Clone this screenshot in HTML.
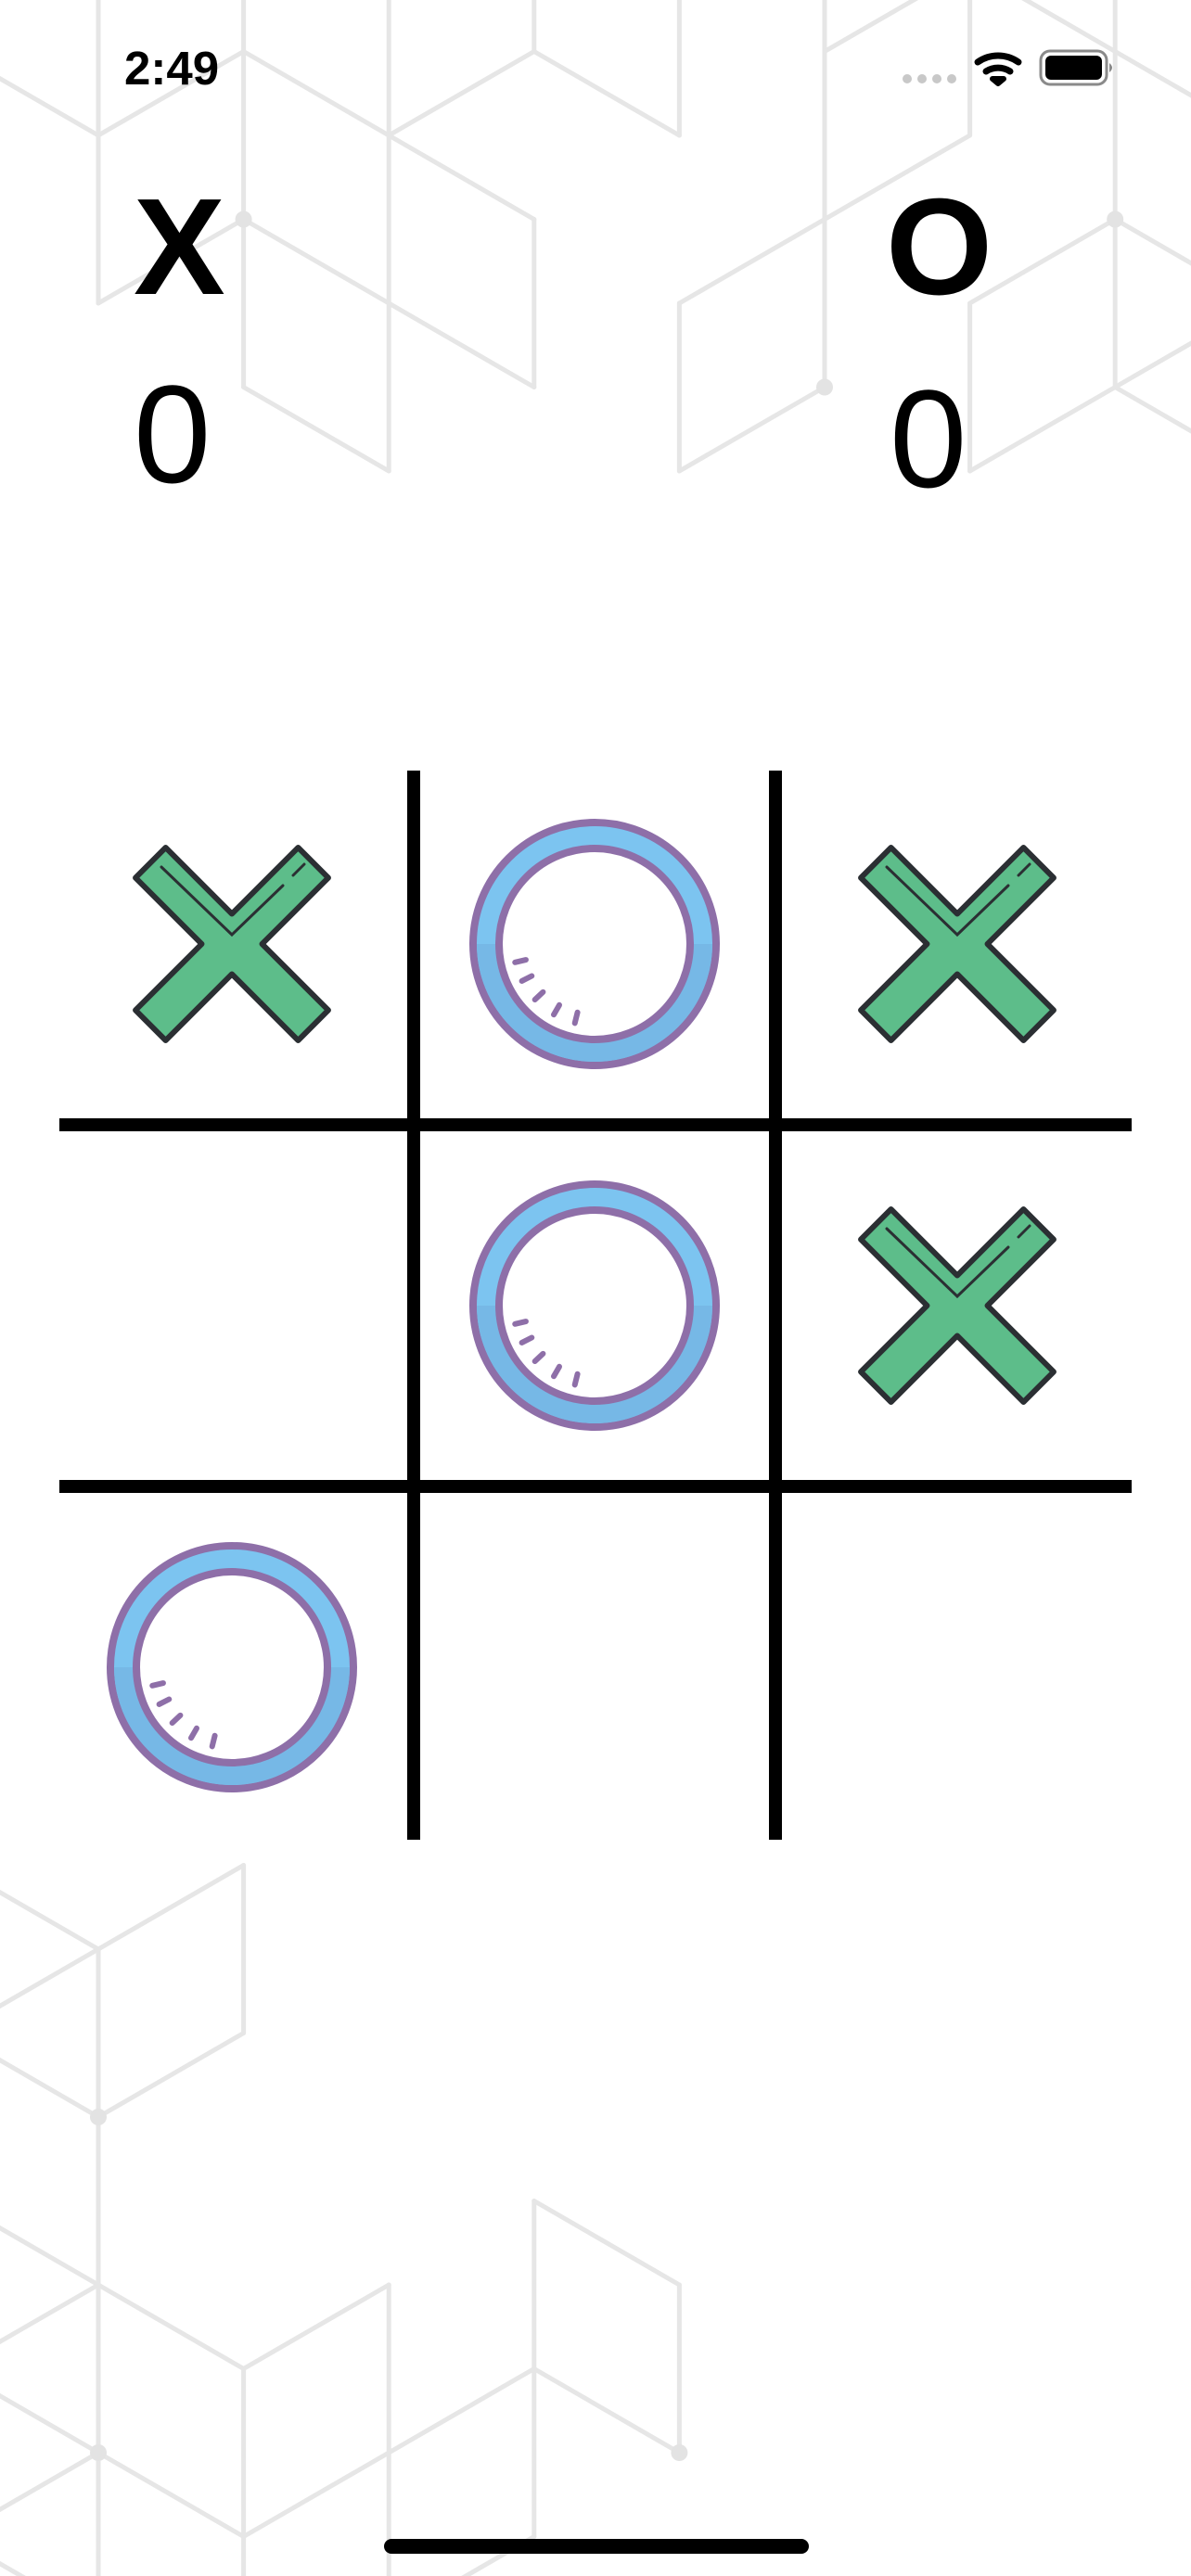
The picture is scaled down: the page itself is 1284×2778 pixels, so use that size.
<!DOCTYPE html>
<html><head><meta charset="utf-8">
<style>
html,body{margin:0;padding:0;background:#fff;}
body{width:1284px;height:2778px;position:relative;overflow:hidden;font-family:"Liberation Sans",sans-serif;}
svg{position:absolute;left:0;top:0;}
</style></head>
<body>
<svg id="root" width="1284" height="2778" viewBox="0 0 1284 2778" xmlns="http://www.w3.org/2000/svg">
  <g id="bg" stroke="#e6e6e6" stroke-width="5" fill="none" stroke-linecap="round"></g>
  <g id="bgdots" fill="#e3e3e3"></g>

  <!-- status bar -->
  <text x="134" y="91" font-size="51" font-weight="bold" fill="#000">2:49</text>
  <g fill="#c8c8c8">
    <circle cx="978" cy="85" r="5"/><circle cx="994" cy="85" r="5"/><circle cx="1010" cy="85" r="5"/><circle cx="1026" cy="85" r="5"/>
  </g>
  <g fill="none" stroke="#000" stroke-width="7" stroke-linecap="round">
    <path d="M1054 67 A38 38 0 0 1 1098 67"/>
    <path d="M1063 77 A24 24 0 0 1 1089 77"/>
    <path d="M1070 85 L1076 90 L1082 85 Z" fill="#000" stroke-width="6" stroke-linejoin="round"/>
  </g>
  <g>
    <rect x="1122" y="55" width="71" height="36" rx="10" fill="none" stroke="#8a8a8a" stroke-width="3"/>
    <rect x="1127" y="60" width="61" height="26" rx="6" fill="#000"/>
    <path d="M1196 68 Q1202 73 1196 78 Z" fill="#8a8a8a"/>
  </g>

  <!-- score header -->
  <text x="144" y="317" font-size="148" font-weight="bold" fill="#000">X</text>
  <text x="144" y="520" font-size="150" fill="#000">0</text>
  <text x="955" y="317" font-size="148" font-weight="bold" fill="#000">O</text>
  <text x="959" y="525" font-size="150" fill="#000">0</text>

  <g id="board"></g>

  <rect x="414" y="2738" width="458" height="16" rx="8" fill="#000"/>
</svg>
<script>
// board state
const boardRows = [
  ["X","O","X"],
  ["", "O","X"],
  ["O","", ""]
];
const NS = "http://www.w3.org/2000/svg";
function mk(tag, attrs, parent){
  const e = document.createElementNS(NS, tag);
  for (const k in attrs) e.setAttribute(k, attrs[k]);
  parent.appendChild(e); return e;
}
// background lattice
const colX = k => 106 + 156.6 * k;
const topY = m => 146 + 90.5 * m;
const botY = n => 2102 + 90.5 * n;
const topEdges = [
  [0,-2,0,2],[-1,-1,0,0],[0,0,1,-1],[0,2,1,1],
  [1,-2,1,3],[1,-1,2,0],[1,1,2,2],[1,3,2,4],
  [2,-2,2,4],[2,0,3,-1],[2,0,3,1],[2,2,3,3],
  [3,-2,3,-1],[3,1,3,3],[3,-1,4,0],
  [4,-2,4,0],[4,2,4,4],[4,2,5,1],[4,4,5,3],
  [5,-2,5,3],[5,-1,6,-2],[5,1,6,0],
  [6,-2,6,0],[6,2,6,4],[6,-2,7,-1],[6,2,7,1],[6,4,7,3],
  [7,-2,7,3],[7,-1,8,0],[7,1,8,2],[7,3,8,2],[7,3,8,4]
];
const botEdges = [
  [-1,-1,0,0],[0,0,1,-1],[0,0,-1,1],[0,0,0,7.5],[1,-1,1,1],[1,1,0,2],[-1,1,0,2],
  [-1,3,0,4],[0,4,-1,5],[0,4,1,5],[1,5,2,4],[2,4,2,7.5],[1,5,1,7.5],
  [-1,5,0,6],[0,6,-1,7],[0,6,1,7],[1,7,2,6],[2,6,3,5],[3,5,4,6],
  [3,3,3,7],[3,3,4,4],[4,4,4,6],[3,7,2.4,7.6],[-1,7,-0.5,7.5]
];
const topDots = [[1,1],[5,3],[7,1]];
const botDots = [[0,2],[0,6],[4,6]];
const bg = document.getElementById('bg');
const bgd = document.getElementById('bgdots');
topEdges.forEach(e => {
  const l = mk('line', {x1:colX(e[0]), y1:topY(e[1]), x2:colX(e[2]), y2:topY(e[3])}, bg);
  
  
});
botEdges.forEach(e => {
  const l = mk('line', {x1:colX(e[0]), y1:botY(e[1]), x2:colX(e[2]), y2:botY(e[3])}, bg);
  
  
});
topDots.forEach(d => {
  const c = mk('circle', {cx:colX(d[0]), cy:topY(d[1]), r:9}, bgd);
  
  
});
botDots.forEach(d => {
  const c = mk('circle', {cx:colX(d[0]), cy:botY(d[1]), r:9}, bgd);
  
  
});

// board geometry
const board = document.getElementById('board');
const cellX = c => 250 + 391 * c;
const cellY = r => 1018 + 390 * r;
[446, 836].forEach(x => {
  const l = mk('rect', {x:x-7, y:831, width:14, height:1153, fill:'#000'}, board);
  
  
});
[1213, 1603].forEach(y => {
  const l = mk('rect', {x:64, y:y-7, width:1156, height:14, fill:'#000'}, board);
  
  
});
function drawX(g){
  const w = 23, L = 124;
  const pts = [[-w,-L],[w,-L],[w,-w],[L,-w],[L,w],[w,w],[w,L],[-w,L],[-w,w],[-L,w],[-L,-w],[-w,-w]];
  mk('polygon', {points: pts.map(p=>p.join(',')).join(' '), transform:'rotate(45)', fill:'#5dbd8a', stroke:'#2b2f33', 'stroke-width':6, 'stroke-linejoin':'round'}, g);
  mk('path', {d:'M-76 -83 L0 -10 L55 -63 M66 -74 L78 -86', fill:'none', stroke:'#2b2f33', 'stroke-width':3, 'stroke-linecap':'round'}, g);
}
function drawO(g){
  mk('circle', {r:131, fill:'#7cc4f0', stroke:'#8e6fa8', 'stroke-width':8}, g);
  mk('path', {d:'M-127 0 A127 127 0 0 0 127 0 L107 0 A107 107 0 0 1 -107 0 Z', fill:'#76b8e6'}, g);
  mk('circle', {r:103, fill:'#fff', stroke:'#8e6fa8', 'stroke-width':8}, g);
  [167, 153, 137, 120, 104].forEach(a => {
    const r1 = 76, r2 = 88, t = a * Math.PI / 180;
    mk('line', {x1:r1*Math.cos(t), y1:r1*Math.sin(t), x2:r2*Math.cos(t), y2:r2*Math.sin(t), stroke:'#8e6fa8', 'stroke-width':6, 'stroke-linecap':'round'}, g);
  });
}
boardRows.forEach((row, r) => row.forEach((v, c) => {
  const cell = mk('g', {transform:`translate(${cellX(c)},${cellY(r)})`}, board);
  
  
  mk('rect', {x:-180, y:-180, width:360, height:360, fill:'transparent'}, cell);
  if (v === 'X') drawX(cell);
  if (v === 'O') drawO(cell);
}));
</script>
</body></html>
